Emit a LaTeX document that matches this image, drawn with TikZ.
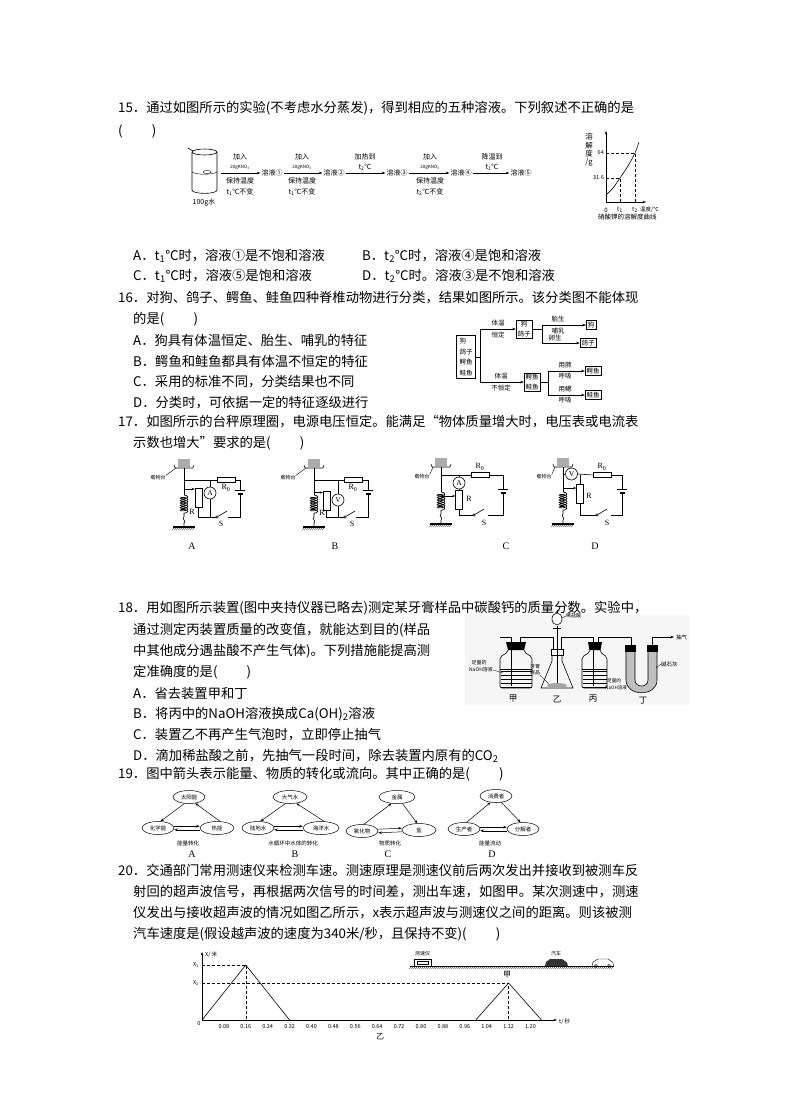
\documentclass[tikz,border=0pt]{standalone}
\usepackage{fontspec}
\setmainfont{Noto Sans CJK SC}
\newfontfamily\latserif{Liberation Serif}
\usetikzlibrary{arrows.meta,shapes.geometric,decorations.pathmorphing}
\newcommand\myfs[1]{\fontsize{#1}{#1}\selectfont}
\newcommand\sbs[1]{\textsubscript{#1}}
\newcommand\sprgnd[2]{%
  \draw[decorate,decoration={coil,aspect=0.35,segment length=2.4pt,amplitude=3.8pt},line width=0.7pt] (#1,#2) -- (#1,#2+19);
  \draw[wire] (#1,#2+19) -- (#1,#2+22) .. controls (#1-3,#2+24) and (#1+3,#2+26) .. (#1,#2+28) -- (#1,#2+32);
  \draw[line width=1.1pt] (#1-11,#2+32) -- (#1+11,#2+32);
  \foreach \k in {0,...,10} \draw[line width=0.3pt] (#1-10+2*\k,#2+32.6) -- (#1-11.5+2*\k,#2+35);
}
\newcommand\scalepan[2]{%
  \fill[gray!65] (#1-6,#2) rectangle (#1+6,#2+8);
  \draw[wire] (#1-10,#2+6) -- (#1-9,#2+9) -- (#1+9,#2+9) -- (#1+10,#2+6);
}
\newcommand\battery[2]{%
  \draw[wire] (#1-5,#2) -- (#1+5,#2);
  \draw[line width=1.3pt] (#1-2.5,#2+4) -- (#1+2.5,#2+4);
}
\newcommand\switchat[2]{%
  \draw[wire] (#1,#2) circle[radius=1.3pt];
  \draw[wire] (#1+1.2,#2-0.7) -- (#1+10,#2-6);
}
\begin{document}
\begin{tikzpicture}[x=1pt,y=-1pt,
  bodytxt/.style={anchor=west, inner sep=0pt, font=\myfs{13.3}},
  flbl/.style={inner sep=0pt, font=\myfs{7}},
  tinytxt/.style={inner sep=0pt, font=\myfs{5}},
  arr/.style={-{Stealth[length=3.5pt,width=2.6pt]}, line width=0.5pt},
  slid/.style={-{Stealth[length=3pt,width=2.4pt]}, line width=0.6pt},
  wire/.style={line width=0.6pt},
  cbox/.style={draw, line width=0.5pt, inner sep=1.5pt, align=center, font=\fontsize{6.5}{9.5}\selectfont},
  meter/.style={circle, draw, line width=0.6pt, minimum size=12pt, inner sep=0pt, fill=white, font=\latserif\myfs{7.5}},
  hres/.style={draw, line width=0.6pt, minimum width=18pt, minimum height=5pt, inner sep=0pt, fill=white},
  vres/.style={draw, line width=0.6pt, minimum width=7pt, minimum height=19pt, inner sep=0pt, fill=white},
  ell/.style={ellipse, draw, line width=0.5pt, minimum width=32pt, minimum height=13pt, inner sep=0pt, font=\myfs{5.5}},
  dsh/.style={dash pattern=on 3pt off 2pt, line width=0.4pt},
  clbl/.style={inner sep=0pt, font=\latserif\myfs{8}},
  abcd/.style={inner sep=0pt, font=\latserif\myfs{10}},
  ticktxt/.style={inner sep=0pt, font=\myfs{5.5}},
  captxt/.style={inner sep=0pt, font=\myfs{5.5}},
]
\useasboundingbox (0,0) rectangle (790,1119);
\fill[white] (0,0) rectangle (790,1119);

% ================= Q15 text =================
\node[bodytxt] (q15a) at (118,108) {15．通过如图所示的实验(不考虑水分蒸发)，得到相应的五种溶液。下列叙述不正确的是};
\node[bodytxt] (q15b) at (118,131) {(\hspace{2.2em})};
\node[bodytxt] (q15A) at (133,256) {A．t\sbs{1}℃时，溶液①是不饱和溶液};
\node[bodytxt] (q15B) at (362,256) {B．t\sbs{2}℃时，溶液④是饱和溶液};
\node[bodytxt] (q15C) at (133,276) {C．t\sbs{1}℃时，溶液⑤是饱和溶液};
\node[bodytxt] (q15D) at (362,276) {D．t\sbs{2}℃时。溶液③是不饱和溶液};

% ---- Q15 figure: beaker + arrows
\draw[wire] (204.5,152) ellipse [x radius=12.5, y radius=3];
\draw[wire] (192,152) -- (192,190) .. controls (192,194.5) and (217,194.5) .. (217,190) -- (217,152);
\draw[wire] (193,151) -- (188,148);
\draw[line width=0.4pt] (192,172) .. controls (198,175) and (211,175) .. (217,172);
\draw[line width=0.4pt] (207,172) ellipse [x radius=4, y radius=1.5];
\node[flbl] (water) at (204,202) {100g水};
\coordinate (bk) at (221,173);
\node[flbl, inner sep=1pt] (s1) at (272,173) {溶液①};
\node[flbl, inner sep=1pt] (s2) at (334,173) {溶液②};
\node[flbl, inner sep=1pt] (s3) at (397,173) {溶液③};
\node[flbl, inner sep=1pt] (s4) at (461,173) {溶液④};
\node[flbl, inner sep=1pt] (s5) at (521,173) {溶液⑤};
\draw[arr] (bk) -- (s1);
\draw[arr] (s1) -- (s2);
\draw[arr] (s2) -- (s3);
\draw[arr] (s3) -- (s4);
\draw[arr] (s4) -- (s5);
\foreach \xx/\tt in {240/1, 302/1, 430/2} {
  \node[flbl] at (\xx,157) {加入};
  \node[inner sep=0pt, font=\myfs{4.5}] at (\xx,167) {20gKNO\sbs{3}};
  \node[flbl] at (\xx,181) {保持温度};
  \node[flbl] at (\xx,192) {t\sbs{\tt}℃不变};
}
\node[flbl] at (365,157) {加热到};
\node[flbl] at (365,167) {t\sbs{2}℃};
\node[flbl] at (492,157) {降温到};
\node[flbl] at (492,167) {t\sbs{1}℃};

% ---- solubility graph
\draw[arr] (606,202) -- (606,131);
\draw[arr] (606,202) -- (646,202);
\draw[line width=0.6pt] plot[smooth] coordinates {(606,195) (613,188) (620,178) (628,166) (635,153) (639,142)};
\draw[dsh] (606,178) -- (620,178) -- (620,202);
\draw[dsh] (606,153) -- (635,153) -- (635,202);
\node[inner sep=0pt, font=\myfs{5.5}, anchor=east] at (604,153) {64};
\node[inner sep=0pt, font=\myfs{5.5}, anchor=east] at (604,178) {31.6};
\node[inner sep=0pt, align=center, font=\fontsize{7.5}{8.2}\selectfont] at (589,150) {溶\\解\\度\\/g};
\node[inner sep=0pt, font=\myfs{6}] at (606,210) {0};
\node[inner sep=0pt, font=\myfs{6}] at (620,210) {t\sbs{1}};
\node[inner sep=0pt, font=\myfs{6}] at (635,210) {t\sbs{2}};
\node[inner sep=0pt, font=\myfs{5.5}, anchor=west] at (640,210) {温度/℃};
\node[inner sep=0pt, font=\myfs{6.5}, anchor=west] at (598,217) {硝酸钾的溶解度曲线};

% ================= Q16 =================
\node[bodytxt] (q16a) at (118,298) {16．对狗、鸽子、鳄鱼、鲑鱼四种脊椎动物进行分类，结果如图所示。该分类图不能体现};
\node[bodytxt] (q16b) at (133,319) {的是(\hspace{2.2em})};
\node[bodytxt] (q16A) at (133,340) {A．狗具有体温恒定、胎生、哺乳的特征};
\node[bodytxt] (q16B) at (133,361) {B．鳄鱼和鲑鱼都具有体温不恒定的特征};
\node[bodytxt] (q16C) at (133,382) {C．采用的标准不同，分类结果也不同};
\node[bodytxt] (q16D) at (133,403) {D．分类时，可依据一定的特征逐级进行};

\node[cbox, inner sep=3pt, align=left, font=\fontsize{6.5}{10.5}\selectfont] (lb) at (466,357) {狗\\鸽子\\鳄鱼\\鲑鱼};
\coordinate (jl) at (480,357);
\coordinate (ju) at (480,329);
\coordinate (jd) at (480,382);
\draw[line width=0.5pt] (lb.east) -- (jl);
\draw[line width=0.5pt] (ju) -- (jd);
\node[cbox] (b1) at (524,329) {狗\\鸽子};
\node[cbox] (b2) at (532,382) {鳄鱼\\鲑鱼};
\draw[arr] (ju) -- (b1);
\draw[arr] (jd) -- (b2);
\node[flbl, font=\myfs{6.5}] at (498,323) {体温};
\node[flbl, font=\myfs{6.5}] at (498,335) {恒定};
\node[flbl, font=\myfs{6.5}] at (501,376) {体温};
\node[flbl, font=\myfs{6.5}] at (501,388) {不恒定};
\coordinate (k1) at (542,325);
\coordinate (k2) at (542,343);
\draw[line width=0.5pt] (b1.east) -- (542,329);
\draw[line width=0.5pt] (k1) -- (k2);
\node[cbox] (c1) at (591,325) {狗};
\node[cbox] (c2) at (588,343) {鸽子};
\draw[arr] (k1) -- (c1);
\draw[arr] (k2) -- (c2);
\node[flbl, font=\myfs{6.5}] at (558,319.5) {胎生};
\node[flbl, font=\myfs{6.5}] at (558,331) {哺乳};
\node[flbl, font=\myfs{6.5}] at (555,338.5) {卵生};
\coordinate (k3) at (548,371);
\coordinate (k4) at (548,395);
\draw[line width=0.5pt] (b2.east) -- (548,382);
\draw[line width=0.5pt] (k3) -- (k4);
\node[cbox] (c3) at (593,371) {鳄鱼};
\node[cbox] (c4) at (593,395) {鲑鱼};
\draw[arr] (k3) -- (c3);
\draw[arr] (k4) -- (c4);
\node[flbl, font=\myfs{6.5}] at (565,365.5) {用肺};
\node[flbl, font=\myfs{6.5}] at (565,376.5) {呼吸};
\node[flbl, font=\myfs{6.5}] at (565,389.5) {用鳃};
\node[flbl, font=\myfs{6.5}] at (565,400.5) {呼吸};

% ================= Q17 =================
\node[bodytxt] (q17a) at (118,422) {17．如图所示的台秤原理圈，电源电压恒定。能满足“物体质量增大时，电压表或电流表};
\node[bodytxt] (q17b) at (133,443) {示数也增大”要求的是(\hspace{2.2em})};

% ---- circuit A
\scalepan{184}{459}
\node[tinytxt] (lbA) at (158,478) {载物台};
\draw[line width=0.4pt] (lbA.north east) -- (176,468);
\draw[wire] (184,468) -- (184,495);
\sprgnd{184}{495}
\node[hres] (R0A) at (226,480) {};
\node[meter] (MA) at (210,493) {A};
\node[vres] (RA) at (198.5,498) {};
\draw[wire] (184,480) -- (R0A.west);
\draw[wire] (210,480) -- (MA.north);
\draw[wire] (MA.south) -- (210,517) -- (215.7,517);
\draw[wire] (R0A.east) -- (240,480) -- (240,490);
\battery{240}{490}
\draw[wire] (240,494) -- (240,517) -- (228,517);
\draw[wire] (RA.south) -- (198.5,517) -- (210,517);
\switchat{217}{517}
\draw[slid] (184,489) -- (RA.west |- 184,489);
\node[clbl] at (226,488) {R\sbs{0}};
\node[clbl] at (192,512) {R};
\node[clbl] at (221,524) {S};
\node[abcd] at (192,546) {A};

% ---- circuit B
\scalepan{314}{459}
\node[tinytxt] (lbB) at (288,478) {载物台};
\draw[line width=0.4pt] (lbB.north east) -- (306,468);
\draw[wire] (314,468) -- (314,495);
\sprgnd{314}{495}
\node[hres] (R0B) at (353,480) {};
\node[meter] (MB) at (338,500) {V};
\node[vres] (RB) at (326.5,501) {};
\draw[wire] (314,480) -- (R0B.west);
\draw[wire] (338,480) -- (MB.north);
\draw[wire] (MB.south) -- (338,517);
\draw[wire] (RB.south) -- (326.5,517) -- (343.7,517);
\draw[wire] (R0B.east) -- (368,480) -- (368,490);
\battery{368}{490}
\draw[wire] (368,494) -- (368,517) -- (356,517);
\switchat{345}{517}
\draw[slid] (314,492.5) -- (RB.west |- 314,492.5);
\node[clbl] at (353,488) {R\sbs{0}};
\node[clbl] at (322,513) {R};
\node[clbl] at (352,524) {S};
\node[abcd] at (335,546) {B};

% ---- circuit C
\scalepan{441}{458}
\node[tinytxt] (lbC) at (422,477) {载物台};
\draw[line width=0.4pt] (lbC.north east) -- (433,467);
\draw[wire] (441,467) -- (441,492);
\sprgnd{441}{492}
\node[hres] (R0C) at (480,475) {};
\node[meter] (MC) at (459,483) {A};
\node[vres] (RC) at (459,500) {};
\draw[wire] (441,475) -- (R0C.west);
\draw[wire] (459,475) -- (MC.north);
\draw[wire] (MC.south) -- (RC.north);
\draw[wire] (R0C.east) -- (503,475) -- (503,489);
\battery{503}{489}
\draw[wire] (503,493) -- (503,515) -- (488,515);
\draw[wire] (RC.south) -- (459,515) -- (472.7,515);
\switchat{474}{515}
\draw[slid] (441,496) -- (RC.west |- 441,496);
\node[clbl] at (480,467) {R\sbs{0}};
\node[clbl] at (469,499) {R};
\node[clbl] at (484,523) {S};
\node[abcd] at (506,546) {C};

% ---- circuit D
\scalepan{563}{458}
\node[tinytxt] (lbD) at (544,477) {载物台};
\draw[line width=0.4pt] (lbD.north east) -- (555,467);
\draw[wire] (563,467) -- (563,492);
\sprgnd{563}{492}
\node[meter] (MD) at (571.5,474) {V};
\node[hres] (R0D) at (602,475) {};
\node[vres] (RD) at (580,494) {};
\draw[wire] (563,475) -- (MD.west);
\draw[wire] (MD.east) -- (R0D.west);
\draw[wire] (580,475) -- (RD.north);
\draw[wire] (R0D.east) -- (622,475) -- (622,489);
\battery{622}{489}
\draw[wire] (622,493) -- (622,515) -- (611,515);
\draw[wire] (RD.south) -- (580,515) -- (595.7,515);
\switchat{597}{515}
\draw[slid] (563,488) -- (RD.west |- 563,488);
\node[clbl] at (602,467) {R\sbs{0}};
\node[clbl] at (589,496) {R};
\node[clbl] at (607,523) {S};
\node[abcd] at (595,546) {D};

% ================= Q18 =================
\node[bodytxt] (q18a) at (118,608) {18．用如图所示装置(图中夹持仪器已略去)测定某牙膏样品中碳酸钙的质量分数。实验中，};
\node[bodytxt] (q18b) at (133,630) {通过测定丙装置质量的改变值，就能达到目的(样品};
\node[bodytxt] (q18c) at (133,651) {中其他成分遇盐酸不产生气体)。下列措施能提高测};
\node[bodytxt] (q18d) at (133,672) {定准确度的是(\hspace{2.2em})};
\node[bodytxt] (q18A) at (133,693) {A．省去装置甲和丁};
\node[bodytxt] (q18B) at (133,714) {B．将丙中的NaOH溶液换成Ca(OH)\sbs{2}溶液};
\node[bodytxt] (q18C) at (133,735) {C．装置乙不再产生气泡时，立即停止抽气};
\node[bodytxt] (q18D) at (133,756) {D．滴加稀盐酸之前，先抽气一段时间，除去装置内原有的CO\sbs{2}};

\fill[gray!7] (465,615) rectangle (690,705);
% 甲
\foreach \yy in {671,675,...,687} \draw[line width=0.35pt] (500.5,\yy) -- (531.5,\yy);
\draw[line width=0.4pt] (500,669) -- (532,669);
\draw[wire, rounded corners=2pt] (508,650) -- (508,652) -- (500,657) -- (500,688) -- (532,688) -- (532,657) -- (524,652) -- (524,650);
\fill (506,642) -- (526,642) -- (524,650) -- (508,650) -- cycle;
\draw[wire] (500,637) -- (511,637) -- (511,686);
\draw[wire] (520,642) -- (520,637) -- (553,637) -- (553,656);
\node[tinytxt] (j1) at (479,663) {足量的};
\node[tinytxt] (j2) at (481,670) {NaOH溶液};
\draw[line width=0.3pt] (j2.east) -- (503,673);
% 乙
\draw[wire] (552,655) -- (552,661) -- (541,688) -- (573,688) -- (562,661) -- (562,655);
\fill[gray!70] (557,685.5) ellipse [x radius=10, y radius=2.5];
\draw[wire, fill=white] (551,649) rectangle (563,655);
\draw[wire] (557,626) -- (557,683);
\draw[wire, fill=white] (557,619) ellipse [x radius=5, y radius=6];
\draw[wire] (553,628) -- (561,628);
\draw[wire] (557,613) -- (557,610);
\node[tinytxt, anchor=west] (hcl) at (566,616) {稀盐酸};
\draw[line width=0.3pt] (hcl.west) -- (562,618);
\node[inner sep=0pt, align=center, font=\fontsize{5}{6}\selectfont] (yp) at (535,670) {牙膏\\样品};
\draw[line width=0.3pt] (yp.south east) -- (549,684);
\draw[wire] (561,649) -- (561,637) -- (593,637) -- (593,686);
% 丙
\foreach \yy in {671,675,...,687} \draw[line width=0.35pt] (582.5,\yy) -- (606.5,\yy);
\draw[line width=0.4pt] (582,669) -- (607,669);
\draw[wire, rounded corners=2pt] (590,650) -- (590,652) -- (582,657) -- (582,688) -- (607,688) -- (607,657) -- (600,652) -- (600,650);
\fill (588,642) -- (602,642) -- (600.5,650) -- (589.5,650) -- cycle;
\draw[wire] (593,642) -- (593,686);
\draw[wire] (598,642) -- (598,637) -- (631,637) -- (631,645);
\node[tinytxt, anchor=west, font=\myfs{4.6}] at (607,681) {足量的};
\node[tinytxt, anchor=west, font=\myfs{4.6}] at (605,688) {NaOH溶液};
% 丁
\fill[gray!50] (626,651) -- (626,680) .. controls (626,697) and (657,697) .. (657,680) -- (657,651) -- (648,651) -- (648,680) .. controls (648,688) and (635,688) .. (635,680) -- (635,651) -- cycle;
\draw[wire] (626,651) -- (626,680) .. controls (626,697) and (657,697) .. (657,680) -- (657,651);
\draw[wire] (635,651) -- (635,680) .. controls (635,688) and (648,688) .. (648,680) -- (648,651);
\fill (625,645) rectangle (636,652);
\fill (647,645) rectangle (658,652);
\coordinate (outl) at (674,637);
\draw[wire] (652,645) -- (652,637) -- (670,637);
\draw[arr] (670,637) -- (outl);
\node[tinytxt, anchor=west, font=\myfs{5.5}] (cq) at (676,637) {抽气};
\node[tinytxt, anchor=west, font=\myfs{5.5}] (jsh) at (661,664) {碱石灰};
\draw[line width=0.3pt] (jsh.west) -- (656,668);
\node[flbl, font=\myfs{8.5}] at (513,699) {甲};
\node[flbl, font=\myfs{8.5}] at (557,699) {乙};
\node[flbl, font=\myfs{8.5}] at (593,699) {丙};
\node[flbl, font=\myfs{8.5}] at (643,701) {丁};

% ================= Q19 =================
\node[bodytxt] (q19) at (118,774) {19．图中箭头表示能量、物质的转化或流向。其中正确的是(\hspace{2.2em})};

% A
\node[ell] (tA) at (189,797) {太阳能};
\node[ell] (lA) at (158,828) {化学能};
\node[ell, minimum width=34pt] (rA) at (217,828) {热能};
\draw[arr] (tA.235) -- (lA.70);
\draw[arr] (rA.65) -- (tA.-45);
\draw[arr] ([yshift=1.8pt]lA.east) -- ([yshift=1.8pt]rA.west);
\draw[arr] ([yshift=-1.8pt]rA.west) -- ([yshift=-1.8pt]lA.east);
\node[captxt] at (188,843) {能量转化};
\node[abcd] at (192,854) {A};
% B
\node[ell, minimum width=34pt] (tB) at (290,797) {大气水};
\node[ell] (lB) at (258,828) {陆地水};
\node[ell, minimum width=36pt] (rB) at (321,828) {海洋水};
\draw[arr] (tB.235) -- (lB.70);
\draw[arr] (rB.65) -- (tB.-45);
\draw[arr] ([yshift=1.8pt]lB.east) -- ([yshift=1.8pt]rB.west);
\draw[arr] ([yshift=-1.8pt]rB.west) -- ([yshift=-1.8pt]lB.east);
\node[captxt] at (293,843) {水循环中水体的转化};
\node[abcd] at (295,854) {B};
% C
\node[ell, minimum width=36pt] (tC) at (397,797) {金属};
\node[ell] (lC) at (362,831) {氧化物};
\node[ell, minimum width=34pt] (rC) at (419,830) {盐};
\draw[arr] (lC.75) -- (tC.230);
\draw[arr] (tC.-50) -- (rC.105);
\draw[arr] ([yshift=1.8pt]lC.east) -- ([yshift=1.8pt]rC.west);
\draw[arr] ([yshift=-1.8pt]rC.west) -- ([yshift=-1.8pt]lC.east);
\node[captxt] at (390,843) {物质转化};
\node[abcd] at (388,854) {C};
% D
\node[ell] (tD) at (496,796) {消费者};
\node[ell] (lD) at (464,829) {生产者};
\node[ell] (rD) at (523,829) {分解者};
\draw[arr] (lD.70) -- (tD.230);
\draw[arr] (tD.-50) -- (rD.110);
\draw[arr] ([yshift=1.8pt]lD.east) -- ([yshift=1.8pt]rD.west);
\draw[arr] ([yshift=-1.8pt]rD.west) -- ([yshift=-1.8pt]lD.east);
\node[captxt] at (490,843) {能量流动};
\node[abcd] at (492,854) {D};

% ================= Q20 =================
\node[bodytxt] (q20a) at (118,870) {20．交通部门常用测速仪来检测车速。测速原理是测速仪前后两次发出并接收到被测车反};
\node[bodytxt] (q20b) at (133,892) {射回的超声波信号，再根据两次信号的时间差，测出车速，如图甲。某次测速中，测速};
\node[bodytxt] (q20c) at (133,913) {仪发出与接收超声波的情况如图乙所示，x表示超声波与测速仪之间的距离。则该被测};
\node[bodytxt] (q20d) at (133,934) {汽车速度是(假设越声波的速度为340米/秒，且保持不变)(\hspace{2.2em})};

% graph 乙
\coordinate (O) at (202,1020);
\coordinate (P1) at (245.8,965);
\coordinate (P2) at (508.6,983);
\draw[arr] (O) -- (202,952);
\draw[arr] (O) -- (557,1020);
\draw[dsh] (202,965) -- (P1) -- (245.8,1020);
\draw[dsh] (202,983) -- (P2) -- (508.6,1020);
\draw[line width=0.6pt] (O) -- (P1) -- (289.6,1020);
\draw[line width=0.6pt] (475.75,1020) -- (P2) -- (541.5,1020);
\node[ticktxt] at (199,1024) {0};
\node[ticktxt, anchor=east] at (199,965) {X\sbs{1}};
\node[ticktxt, anchor=east] at (199,983) {X\sbs{2}};
\node[ticktxt, anchor=west] at (205,955) {X/ 米};
\foreach \v [count=\i] in {0.08,0.16,0.24,0.32,0.40,0.48,0.56,0.64,0.72,0.80,0.88,0.96,1.04,1.12,1.20}
  \node[ticktxt] at ({202+\i*21.9},1027) {\v};
\node[ticktxt, anchor=west] at (559,1022) {t/ 秒};
\node[flbl, font=\myfs{8}] at (380,1037) {乙};

% figure 甲
\draw[line width=0.6pt] (410,966) -- (614,966);
\foreach \k in {0,...,101} \draw[line width=0.3pt] ({411+2*\k},966.5) -- ({409.5+2*\k},969);
\draw[line width=0.5pt, fill=white] (414,959) rectangle (431,966);
\draw[line width=0.4pt] (417,961) rectangle (428,964);
\node[tinytxt] at (422.5,954) {测速仪};
\fill[black!80] (545,966) -- (546,962) -- (550,959) -- (562,959) -- (567,962.5) -- (568,966) -- cycle;
\node[tinytxt] at (556,953.5) {汽车};
\draw[line width=0.4pt] (592,966) -- (593,962) -- (598,959) -- (608,959) -- (613,962.5) -- (613.5,966);
\draw[line width=0.4pt] (596,966) circle[radius=1.5pt];
\draw[line width=0.4pt] (609,966) circle[radius=1.5pt];
\node[flbl, font=\myfs{8}] at (507,975) {甲};

\end{tikzpicture}
\end{document}
